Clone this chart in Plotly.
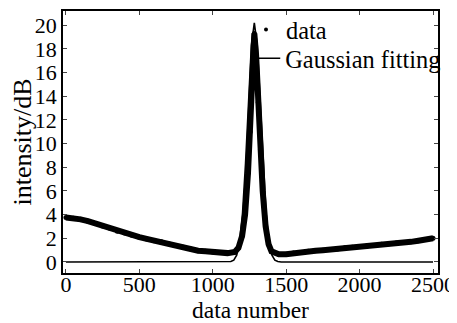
import plotly.graph_objects as go

data_x = [0, 50, 100, 150, 200, 250, 300, 350, 400, 450, 500, 550, 600, 650, 700,
          750, 800, 850, 900, 950, 1000, 1050, 1100, 1150, 1175, 1200, 1220, 1240,
          1255, 1270, 1283, 1295, 1310, 1325, 1340, 1360, 1380, 1400, 1450, 1500,
          1550, 1600, 1650, 1700, 1750, 1800, 1850, 1900, 1950, 2000, 2050, 2100,
          2150, 2200, 2250, 2300, 2350, 2400, 2450, 2500]
data_y = [3.75, 3.7, 3.6, 3.45, 3.25, 3.05, 2.85, 2.6, 2.45, 2.25, 2.1, 1.95, 1.8,
          1.7, 1.55, 1.4, 1.25, 1.1, 0.95, 0.9, 0.85, 0.8, 0.75, 0.85, 1.2, 2.2,
          4.0, 7.5, 11.0, 16.0, 19.3, 17.5, 13.5, 9.5, 6.0, 3.0, 1.5, 0.9, 0.65,
          0.65, 0.75, 0.8, 0.9, 0.95, 1.0, 1.05, 1.1, 1.2, 1.25, 1.3, 1.35, 1.4,
          1.5, 1.55, 1.6, 1.65, 1.7, 1.8, 1.9, 2.0]

# Gaussian fitting curve
fit_x = [0, 1100, 1123, 1143, 1163, 1183, 1203, 1223, 1243, 1263, 1283, 1303,
         1323, 1343, 1363, 1383, 1403, 1423, 1443, 1466, 2500]
fit_y = [0, 0, 0.04, 0.16, 0.58, 1.71, 4.16, 8.3, 13.6, 18.3, 20.2, 18.3, 13.6,
         8.3, 4.16, 1.71, 0.58, 0.16, 0.04, 0, 0]

x_ticks = [0, 500, 1000, 1500, 2000, 2500]
y_ticks = [0, 2, 4, 6, 8, 10, 12, 14, 16, 18, 20]

FONT = "Liberation Serif, Times New Roman, serif"

fig = go.Figure()
fig.add_trace(go.Scatter(x=data_x, y=data_y, mode="lines+markers",
                         line=dict(color="black", width=6),
                         marker=dict(color="black", size=5),
                         showlegend=False))
fig.add_trace(go.Scatter(x=fit_x, y=fit_y, mode="lines",
                         line=dict(color="black", width=1.6),
                         showlegend=False))
# legend entries
fig.add_trace(go.Scatter(x=[None], y=[None], mode="markers", name="data",
                         marker=dict(color="black", size=4), legend="legend"))
fig.add_trace(go.Scatter(x=[None], y=[None], mode="lines", name="Gaussian fitting",
                         line=dict(color="black", width=1.6), legend="legend2"))

leg_common = dict(xanchor="left", yanchor="top", bgcolor="rgba(0,0,0,0)",
                  borderwidth=0, itemwidth=30,
                  font=dict(family=FONT, size=24.4, color="black"))

# page body has an 8px margin, so the figure is 8px smaller and shifted
fig.update_layout(
    width=449, height=315,
    margin=dict(l=55, r=19, t=3, b=50, autoexpand=False),
    paper_bgcolor="white", plot_bgcolor="white",
    font=dict(family=FONT, size=22, color="black"),
    legend=dict(x=0.488, y=1.015, **leg_common),
    legend2=dict(x=0.486, y=0.905, **leg_common),
)
fig.update_xaxes(range=[-20, 2534], tickvals=x_ticks, ticks="inside", ticklen=4,
                 showline=True, linecolor="black", linewidth=1.5, mirror="ticks",
                 showgrid=False, zeroline=False, automargin=False,
                 ticklabelstandoff=-9,
                 title=dict(text="data number", standoff=0,
                            font=dict(family=FONT, size=23.5)),
                 tickfont=dict(family=FONT, size=22))
fig.update_yaxes(range=[-0.93, 21.2], tickvals=y_ticks, ticks="inside", ticklen=4,
                 showline=True, linecolor="black", linewidth=1.5, mirror="ticks",
                 showgrid=False, zeroline=False, automargin=False,
                 title=dict(text="intensity/dB", standoff=0,
                            font=dict(family=FONT, size=26)),
                 tickfont=dict(family=FONT, size=22))

fig.write_html("out.html")
